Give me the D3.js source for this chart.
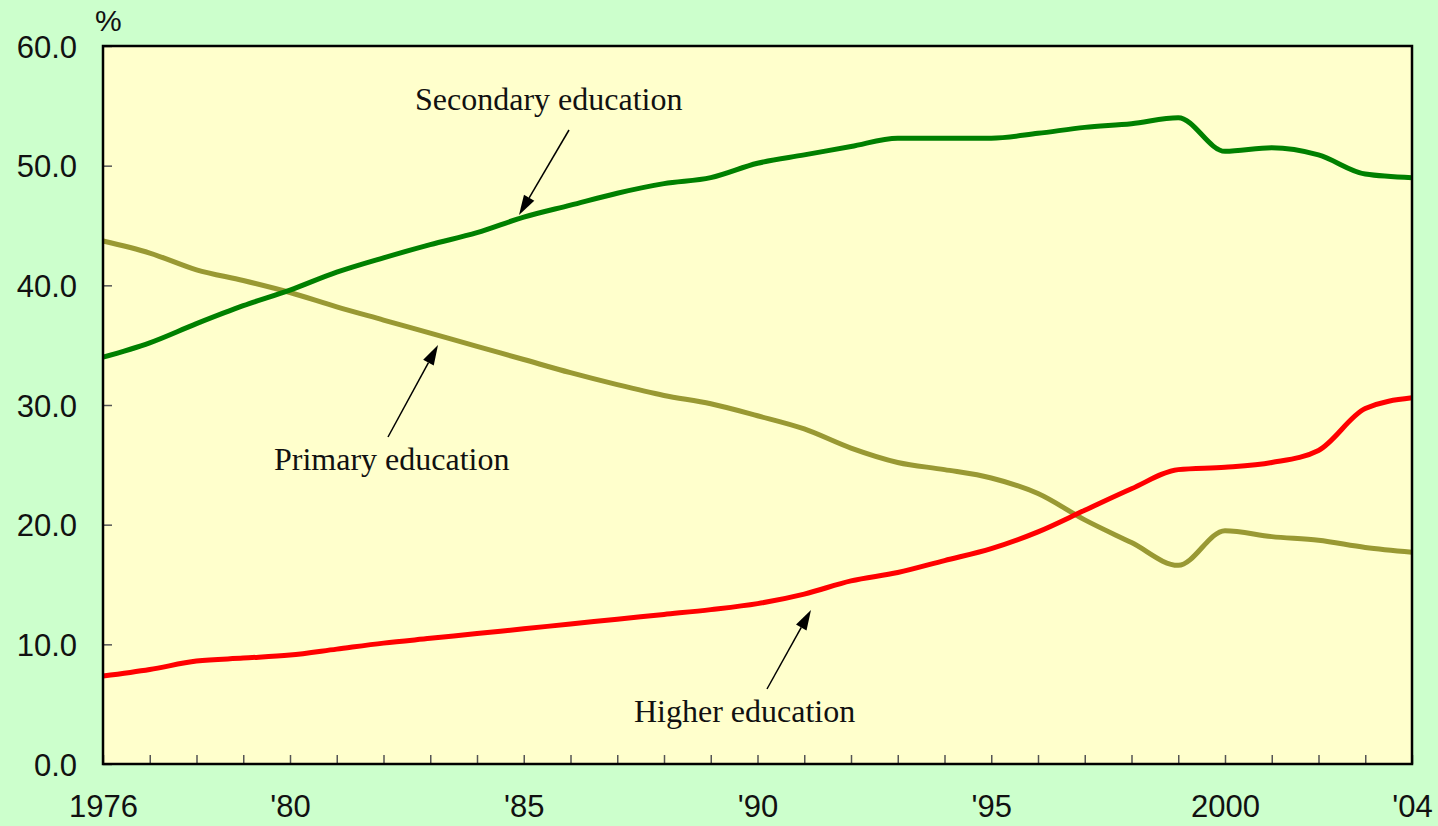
<!DOCTYPE html>
<html>
<head>
<meta charset="utf-8">
<script src="https://cdn.jsdelivr.net/npm/d3@7"></script>
<style>
  html, body { margin: 0; padding: 0; background: #ccffcc; }
  svg { display: block; }
  .axis path { display: none; }
  .axis line { stroke: #555; stroke-width: 1.5; }
  .axis text { font-family: "Liberation Sans", Arial, sans-serif; font-size: 31px; fill: #111; }
  .note { font-family: "Liberation Serif", "Times New Roman", serif; font-size: 32px; fill: #111; }
</style>
</head>
<body>
<div id="chart"></div>
<script>
// Education composition, %
const years = d3.range(1976, 2005);
const secondary = [34.0, 35.2, 36.8, 38.3, 39.6, 41.1, 42.3, 43.4, 44.4, 45.7,
                   46.7, 47.7, 48.5, 49.0, 50.2, 50.9, 51.6, 52.3, 52.3, 52.3,
                   52.7, 53.2, 53.5, 54.0, 51.2, 51.5, 50.9, 49.3, 49.0];
const primary = [43.7, 42.7, 41.3, 40.4, 39.4, 38.2, 37.1, 36.0, 34.9, 33.8,
                 32.7, 31.7, 30.8, 30.1, 29.1, 28.0, 26.4, 25.2, 24.6, 23.9,
                 22.6, 20.4, 18.5, 16.6, 19.5, 19.0, 18.7, 18.1, 17.7];
const higher = [7.35, 7.9, 8.6, 8.85, 9.1, 9.6, 10.1, 10.5, 10.9, 11.3,
                11.7, 12.1, 12.5, 12.9, 13.4, 14.2, 15.3, 16.0, 17.0, 18.0,
                19.4, 21.2, 23.0, 24.6, 24.8, 25.2, 26.2, 29.7, 30.6];
const yearLabels = { 1976: '1976', 1980: "'80", 1985: "'85", 1990: "'90", 1995: "'95", 2000: '2000', 2004: "'04" };
const yTicks = [0, 10, 20, 30, 40, 50, 60];

const W = 1438, H = 826;
const margin = { top: 46, right: 26, bottom: 62, left: 103 };
const width = W - margin.left - margin.right;
const height = H - margin.top - margin.bottom;

const svg = d3.select('#chart').append('svg')
    .attr('width', W)
    .attr('height', H);

svg.append('rect').attr('width', W).attr('height', H).attr('fill', '#ccffcc');

const g = svg.append('g')
    .attr('transform', `translate(${margin.left},${margin.top})`);

const x = d3.scaleLinear().domain([1976, 2004]).range([0, width]);
const y = d3.scaleLinear().domain([0, 60]).range([height, 0]);

// plot background
g.append('rect')
    .attr('width', width)
    .attr('height', height)
    .attr('fill', '#ffffcc');

// x axis - ticks every year, pointing inward
g.append('g')
    .attr('class', 'axis x-axis')
    .attr('transform', `translate(0,${height})`)
    .call(d3.axisBottom(x)
        .tickValues(years)
        .tickSize(-9)
        .tickPadding(31)
        .tickFormat(d => yearLabels[d] || ''));

// y axis
g.append('g')
    .attr('class', 'axis y-axis')
    .call(d3.axisLeft(y)
        .tickValues(yTicks)
        .tickSize(-9)
        .tickPadding(26)
        .tickFormat(d3.format('.1f')));

g.selectAll('.x-axis text').attr('dy', '0.71em');
g.selectAll('.y-axis text').attr('dy', '0.36em');

// series lines
const line = d3.line()
    .x((d, i) => x(years[i]))
    .y(d => y(d))
    .curve(d3.curveMonotoneX);

const series = [
    { values: primary, color: '#999933' },
    { values: higher, color: '#ff0000' },
    { values: secondary, color: '#008000' }
];

g.selectAll('.series')
    .data(series)
    .enter().append('path')
    .attr('class', 'series')
    .attr('fill', 'none')
    .attr('stroke', d => d.color)
    .attr('stroke-width', 5)
    .attr('stroke-linejoin', 'round')
    .attr('d', d => line(d.values));

// frame
g.append('rect')
    .attr('width', width)
    .attr('height', height)
    .attr('fill', 'none')
    .attr('stroke', '#000')
    .attr('stroke-width', 2.5);

// unit label
svg.append('text')
    .attr('x', 95)
    .attr('y', 31)
    .style('font-family', '"Liberation Sans", Arial, sans-serif')
    .style('font-size', '30px')
    .style('fill', '#111')
    .text('%');

// annotations with arrows
const notes = [
    { text: 'Secondary education', tx: 415, ty: 110, x1: 569, y1: 130, x2: 519, y2: 215 },
    { text: 'Primary education', tx: 274, ty: 470, x1: 388, y1: 437, x2: 438, y2: 345 },
    { text: 'Higher education', tx: 634, ty: 722, x1: 767, y1: 689, x2: 811, y2: 610 }
];

notes.forEach(n => {
    svg.append('text').attr('class', 'note').attr('x', n.tx).attr('y', n.ty).text(n.text);
    const ang = Math.atan2(n.y2 - n.y1, n.x2 - n.x1);
    const hl = 20, hw = 6;
    const bx = n.x2 - hl * Math.cos(ang), by = n.y2 - hl * Math.sin(ang);
    svg.append('line')
        .attr('x1', n.x1).attr('y1', n.y1)
        .attr('x2', bx).attr('y2', by)
        .attr('stroke', '#000').attr('stroke-width', 1.5);
    svg.append('path')
        .attr('d', `M${n.x2},${n.y2} L${bx + hw * Math.sin(ang)},${by - hw * Math.cos(ang)} L${bx - hw * Math.sin(ang)},${by + hw * Math.cos(ang)} Z`)
        .attr('fill', '#000');
});
</script>
</body>
</html>
